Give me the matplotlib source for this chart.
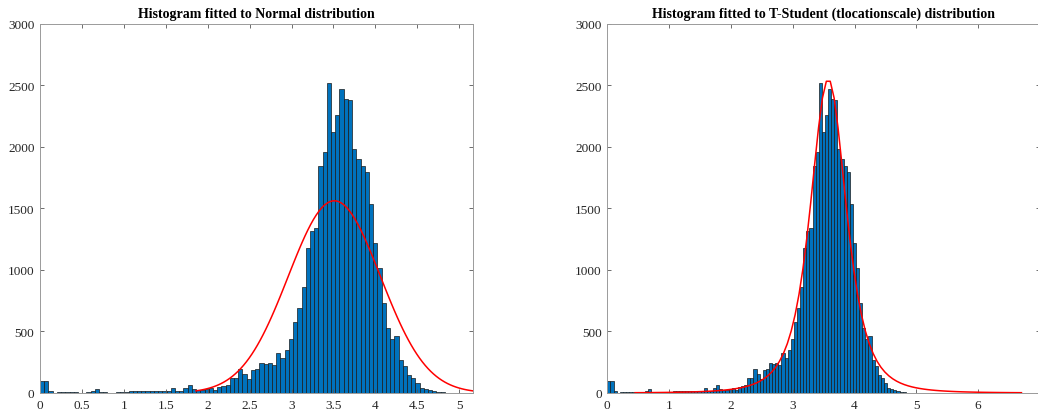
import math
import numpy as np
import matplotlib
matplotlib.use("Agg")
import matplotlib.pyplot as plt

# histogram: bin k covers [k*bin_width, (k+1)*bin_width)
bin_width = 0.0503
counts = [98, 98, 16, 3, 8, 6, 5, 9, 6, 4,
          3, 6, 18, 32, 10, 7, 4, 4, 5, 8,
          12, 16, 20, 13, 15, 16, 14, 14, 20, 17,
          14, 40, 17, 20, 40, 62, 30, 25, 25, 30,
          40, 28, 48, 57, 62, 125, 125, 192, 152, 111,
          187, 192, 241, 233, 241, 225, 322, 288, 350, 442,
          580, 688, 863, 1178, 1312, 1337, 1846, 1957, 2518, 2119,
          2258, 2468, 2390, 2376, 1979, 1898, 1843, 1798, 1538, 1221,
          1018, 734, 531, 440, 462, 265, 220, 145, 118, 78,
          38, 31, 23, 17, 12, 6, 3]

# fitted parameters
norm_mu, norm_sigma = 3.51, 0.55
t_mu, t_sigma, t_nu = 3.575, 0.309, 2.85
t_range = (0.45, 6.70)

titles = ["Histogram fitted to Normal distribution",
          "Histogram fitted to T-Student (tlocationscale) distribution"]
xlims = [(0, 5.16), (0, 7)]
xticks = [np.arange(0, 5.01, 0.5), np.arange(0, 7.01, 1)]
xticklabels = [["0", "0.5", "1", "1.5", "2", "2.5", "3", "3.5", "4", "4.5", "5"],
               ["0", "1", "2", "3", "4", "5", "6", "7"]]
yticks = [0, 500, 1000, 1500, 2000, 2500, 3000]


def norm_pdf(x, mu, s):
    return np.exp(-0.5 * ((x - mu) / s) ** 2) / (s * math.sqrt(2 * math.pi))


def t_pdf(x, mu, s, nu):
    c = math.exp(math.lgamma((nu + 1) / 2) - math.lgamma(nu / 2)) / math.sqrt(nu * math.pi)
    z = (x - mu) / s
    return c / s * (1 + z ** 2 / nu) ** (-(nu + 1) / 2)


plt.rcParams['font.family'] = ['Liberation Serif', 'DejaVu Serif']

fig = plt.figure(figsize=(10.38, 4.14), dpi=100)
# right panel runs past the figure edge, as in the original export
axes = [fig.add_axes([40 / 1038, 20 / 414, 432.7 / 1038, 369.5 / 414]),
        fig.add_axes([607.3 / 1038, 20 / 414, 432.7 / 1038, 369.5 / 414])]

scale = sum(counts) * bin_width
lefts = np.arange(len(counts)) * bin_width

x_norm = np.linspace(norm_mu - 3 * norm_sigma, norm_mu + 3 * norm_sigma, 100)
x_t = np.linspace(t_range[0], t_range[1], 100)
curves = [(x_norm, scale * norm_pdf(x_norm, norm_mu, norm_sigma)),
          (x_t, scale * t_pdf(x_t, t_mu, t_sigma, t_nu))]

for i, ax in enumerate(axes):
    ax.bar(lefts, counts, width=bin_width, align='edge',
           color='#0072BD', edgecolor='#1a1a1a', linewidth=0.5)
    ax.plot(curves[i][0], curves[i][1], color='red', linewidth=1.1)

    ax.set_xlim(*xlims[i])
    ax.set_ylim(0, 3000)
    ax.set_xticks(xticks[i])
    ax.set_xticklabels(xticklabels[i])
    ax.set_yticks(yticks)
    ax.tick_params(direction='in', top=True, right=True, length=3,
                   width=0.6, color='#555555', labelsize=9.5,
                   labelcolor='#262626', pad=4)
    for sp in ax.spines.values():
        sp.set_color('#9a9a9a')
        sp.set_linewidth(0.7)
    ax.set_title(titles[i], fontsize=10, fontweight='bold', pad=5)

fig.savefig('out.png', dpi=100)
